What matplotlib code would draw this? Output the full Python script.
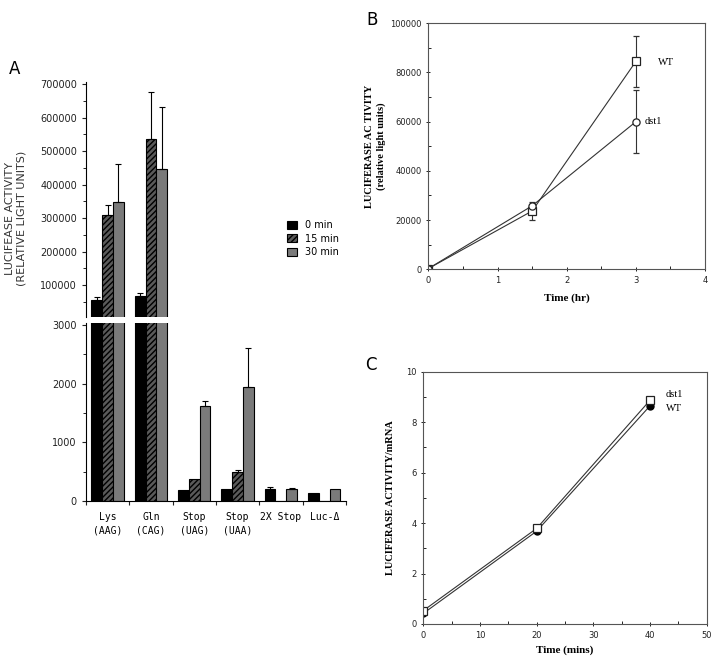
import numpy as np
import matplotlib.pyplot as plt
from matplotlib.ticker import MultipleLocator

# Panel A: luciferase activity per construct
constructs = ["Lys\n(AAG)", "Gln\n(CAG)", "Stop\n(UAG)", "Stop\n(UAA)", "2X Stop", "Luc-\u0394"]
act_0 = [55000, 67500, 190, 200, 210, 130]
act_15 = [310000, 535000, 370, 490, 0, 0]
act_30 = [347000, 445000, 1620, 1950, 210, 200]
err_0 = [10000, 8000, 0, 0, 30, 0]
err_15 = [30000, 140000, 0, 40, 0, 0]
err_30 = [113000, 185000, 90, 650, 10, 0]
times_a = ["0 min", "15 min", "30 min"]

# Panel B: activity over time (hr)
time_b = [0, 1.5, 3]
wt_b = [300, 23700, 84500]
wt_b_err = [0, 3700, 10500]
dst1_b = [300, 25800, 60000]
dst1_b_err = [0, 500, 12800]

# Panel C: activity / mRNA over time (mins)
time_c = [0, 20, 40]
wt_c = [0.42, 3.68, 8.65]
dst1_c = [0.53, 3.79, 8.87]

fig = plt.figure(figsize=(7.14, 6.61), dpi=100)

serif = ["Liberation Serif", "DejaVu Serif"]
mono = ["DejaVu Sans Mono"]

ax_top = fig.add_axes([0.1204, 0.5197, 0.364, 0.3567])
ax_bot = fig.add_axes([0.1204, 0.2421, 0.364, 0.2693])

x = np.arange(len(constructs))
w = 0.25
styles = [
    dict(color="black", edgecolor="black"),
    dict(color="#5a5a5a", edgecolor="black", hatch="//////"),
    dict(color="#7a7a7a", edgecolor="black"),
]
series = [(act_0, err_0), (act_15, err_15), (act_30, err_30)]
for ax, lo, hi in ((ax_top, 3000, 1e9), (ax_bot, 0, 3000)):
    for i, ((vals, errs), st) in enumerate(zip(series, styles)):
        pos = x + (i - 1) * w
        vals = np.array(vals, dtype=float)
        up = np.array(errs, dtype=float)
        ax.bar(pos, vals, w, linewidth=0.8, label=times_a[i], **st)
        mask = (up > 0) & (vals > lo) & (vals < hi)
        if mask.any():
            ax.errorbar(pos[mask], vals[mask], yerr=[np.zeros(mask.sum()), up[mask]],
                        fmt="none", ecolor="black", elinewidth=0.8, capsize=2.5, capthick=0.8)
    ax.set_xlim(-0.5, 5.5)
    for s in ("top", "right"):
        ax.spines[s].set_visible(False)
    ax.tick_params(labelsize=7, length=3, width=0.8, colors="#222222")
    ax.tick_params(which="minor", length=2, width=0.6)

ax_top.set_ylim(3000, 707000)
ax_top.yaxis.set_minor_locator(MultipleLocator(50000))
ax_top.set_yticks([100000, 200000, 300000, 400000, 500000, 600000, 700000])
ax_top.spines["bottom"].set_visible(False)
ax_top.set_xticks([])

ax_bot.set_ylim(0, 3034)
ax_bot.yaxis.set_major_locator(MultipleLocator(1000))
ax_bot.yaxis.set_minor_locator(MultipleLocator(500))
ax_bot.set_xticks(np.arange(-0.5, 6, 1))
ax_bot.set_xticklabels([])
ax_bot.set_xticks(x, minor=True)
ax_bot.set_xticklabels(constructs, minor=True, family=mono, fontsize=7, linespacing=1.4)
ax_bot.tick_params(axis="x", which="minor", length=0, pad=8)

ax_top.legend(loc="upper left", bbox_to_anchor=(0.74, 0.45), frameon=False,
              fontsize=7, handlelength=1.0, handleheight=0.9, labelspacing=0.35,
              handletextpad=0.8)

fig.text(0.022, 0.67, "LUCIFEASE ACTIVITY\n(RELATIVE LIGHT UNITS)", rotation=90,
         ha="center", va="center", fontsize=8, color="#333333", linespacing=1.1)
fig.text(0.012, 0.888, "A", fontsize=12)
fig.text(0.513, 0.962, "B", fontsize=12)
fig.text(0.511, 0.44, "C", fontsize=12)

# Panel B
ax_b = fig.add_axes([0.600, 0.5926, 0.3875, 0.3722])
ax_b.errorbar(time_b, wt_b, yerr=wt_b_err, color="#333333", lw=0.8, marker="s", ms=5.2,
              mfc="white", mec="#222222", mew=0.9, capsize=2.5, elinewidth=0.8)
ax_b.errorbar(time_b, dst1_b, yerr=dst1_b_err, color="#333333", lw=0.8, marker="o", ms=5.2,
              mfc="white", mec="#222222", mew=0.9, capsize=2.5, elinewidth=0.8)
ax_b.set_xlim(0, 4)
ax_b.set_ylim(0, 100000)
ax_b.xaxis.set_major_locator(MultipleLocator(1))
ax_b.xaxis.set_minor_locator(MultipleLocator(0.5))
ax_b.yaxis.set_major_locator(MultipleLocator(20000))
ax_b.yaxis.set_minor_locator(MultipleLocator(10000))
ax_b.text(3.32, 84000, "WT", family=serif, fontsize=7.5, va="center")
ax_b.text(3.12, 60000, "dst1", family=serif, fontsize=7.5, va="center")
ax_b.set_xlabel("Time (hr)", family=serif, fontweight="bold", fontsize=8, labelpad=6)
ax_b.set_ylabel("LUCIFERASE AC TIVITY\n(relative light units)", family=serif,
                fontweight="bold", fontsize=7.5, labelpad=3, linespacing=1.25)

# Panel C
ax_c = fig.add_axes([0.5929, 0.056, 0.397, 0.3817])
ax_c.plot(time_c, wt_c, color="#333333", lw=0.8, marker="o", ms=5, mfc="black", mec="black")
ax_c.plot(time_c, dst1_c, color="#333333", lw=0.8, marker="s", ms=5.2, mfc="white",
          mec="#222222", mew=0.9)
ax_c.set_xlim(0, 50)
ax_c.set_ylim(0, 10)
ax_c.xaxis.set_major_locator(MultipleLocator(10))
ax_c.xaxis.set_minor_locator(MultipleLocator(5))
ax_c.yaxis.set_major_locator(MultipleLocator(2))
ax_c.yaxis.set_minor_locator(MultipleLocator(1))
ax_c.text(42.8, 9.1, "dst1", family=serif, fontsize=7.5, va="center")
ax_c.text(42.8, 8.55, "WT", family=serif, fontsize=7.5, va="center")
ax_c.set_xlabel("Time (mins)", family=serif, fontweight="bold", fontsize=8, labelpad=4)
ax_c.set_ylabel("LUCIFERASE ACTIVITY/mRNA", family=serif, fontweight="bold",
                fontsize=7.5, labelpad=8)

for ax in (ax_b, ax_c):
    for s in ax.spines.values():
        s.set_linewidth(0.8)
        s.set_color("#555555")
    ax.tick_params(labelsize=6, length=3, width=0.7, direction="inout", colors="#222222")
    ax.tick_params(which="minor", length=2, width=0.6, direction="in")

fig.savefig("out.png", dpi=100)
